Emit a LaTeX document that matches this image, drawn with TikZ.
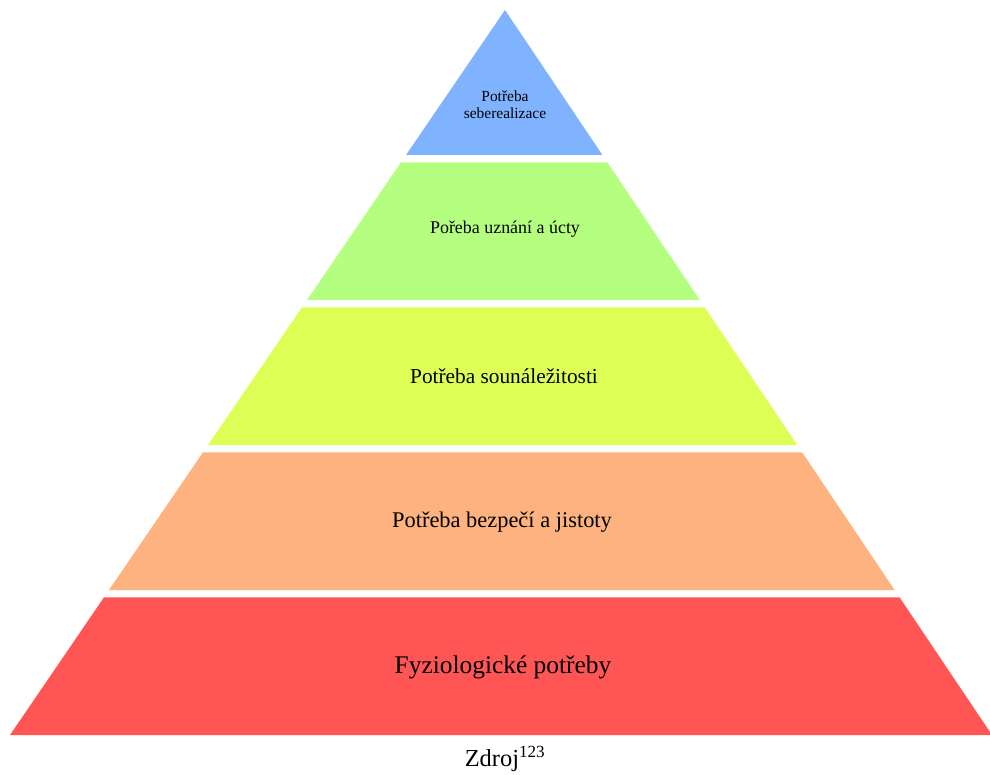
\documentclass[tikz,border=0pt]{standalone}
\usepackage{fontspec}
\setmainfont{Liberation Serif}
\usetikzlibrary{calc}

\definecolor{selfblue}{HTML}{80B3FF}
\definecolor{esteemgreen}{HTML}{B5FF80}
\definecolor{loveyellow}{HTML}{DDFF55}
\definecolor{safetyorange}{HTML}{FDB27F}
\definecolor{physred}{HTML}{FF5555}

\begin{document}
\begin{tikzpicture}[
  x=1bp, y=-1bp,
  tier/.style={inner sep=0pt, align=center, text=black},
]
  \useasboundingbox (0,0) rectangle (990,775);

  \coordinate (apex) at (505,10);
  \coordinate (bl) at (10,735);
  \coordinate (br) at (992,735);

  % the five levels
  \fill[selfblue] (apex) -- ($(apex)!0.2!(br)$) -- ($(apex)!0.2!(bl)$) -- cycle;
  \fill[esteemgreen] ($(apex)!0.21!(bl)$) -- ($(apex)!0.21!(br)$)
    -- ($(apex)!0.4!(br)$) -- ($(apex)!0.4!(bl)$) -- cycle;
  \fill[loveyellow] ($(apex)!0.41!(bl)$) -- ($(apex)!0.41!(br)$)
    -- ($(apex)!0.6!(br)$) -- ($(apex)!0.6!(bl)$) -- cycle;
  \fill[safetyorange] ($(apex)!0.61!(bl)$) -- ($(apex)!0.61!(br)$)
    -- ($(apex)!0.8!(br)$) -- ($(apex)!0.8!(bl)$) -- cycle;
  \fill[physred] ($(apex)!0.81!(bl)$) -- ($(apex)!0.81!(br)$)
    -- (br) -- (bl) -- cycle;

  \node[tier, font=\fontsize{15.5}{17}\selectfont] (self) at (505,105) {Potřeba\\seberealizace};
  \node[tier, font=\fontsize{18}{20}\selectfont, anchor=base] (esteem) at (505,233) {Pořeba uznání a úcty};
  \node[tier, font=\fontsize{21.4}{24}\selectfont, anchor=base] (love) at (504,383) {Potřeba sounáležitosti};
  \node[tier, font=\fontsize{22.5}{25}\selectfont, anchor=base] (safety) at (502,527) {Potřeba bezpečí a jistoty};
  \node[tier, font=\fontsize{25.5}{28}\selectfont, anchor=base] (phys) at (503,673) {Fyziologické potřeby};

  \node[tier, font=\fontsize{24.5}{26}\selectfont, anchor=base] (source) at (505,766) {Zdroj\textsuperscript{123}};
\end{tikzpicture}
\end{document}
